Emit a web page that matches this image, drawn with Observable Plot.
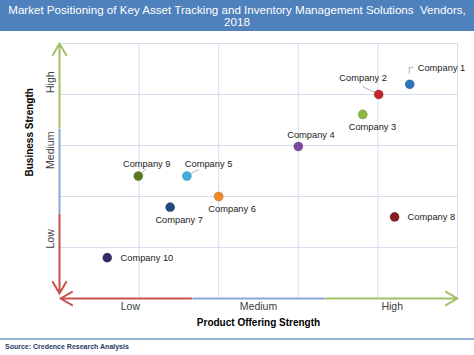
<!DOCTYPE html>
<html><head><meta charset="utf-8">
<script src="https://cdn.jsdelivr.net/npm/d3@7"></script>
<script src="https://cdn.jsdelivr.net/npm/@observablehq/plot@0.6"></script>
<style>
body{margin:0;background:#fff;}
#wrap{width:474px;height:355px;position:relative;overflow:hidden;font-family:"Liberation Sans",Arial,sans-serif;}
#title{height:31px;background:#4F81BD;color:#fff;font-size:11.6px;line-height:12.7px;text-align:center;padding-top:3.5px;box-sizing:border-box;white-space:nowrap;}
#chart{position:absolute;left:0;top:31px;}
#footer{position:absolute;left:0;top:338px;width:474px;height:17px;border-top:2px solid #95B3D7;box-sizing:border-box;font-size:7px;font-weight:bold;color:#1F3864;padding:3px 0 0 5px;}
</style></head>
<body>
<div id="wrap">
  <div id="title">Market Positioning of Key Asset Tracking and Inventory Management Solutions&nbsp; Vendors,<br>2018</div>
  <div id="chart"></div>
  <div id="footer">Source: Credence Research Analysis</div>
</div>
<script>
// ---- data ----
const companies = ["Company 1","Company 2","Company 3","Company 4","Company 5","Company 6","Company 7","Company 8","Company 9","Company 10"];
const productStrength = [4.40, 4.01, 3.81, 3.00, 1.60, 2.00, 1.39, 4.21, 0.99, 0.60];
const businessStrength = [4.20, 4.00, 3.61, 2.98, 2.40, 2.00, 1.79, 1.60, 2.40, 0.80];
const dotColors = ["#2E75C0","#C4262C","#8DB83F","#7A47A3","#43AEDD","#F08828","#1F4A82","#8A1A1C","#5B7B22","#392A68"];
const levelLabels = ["Low","Medium","High"];
const xLevelPos = [0.89, 2.5, 4.18];
const yLevelPos = [0.98, 2.54, 4.03];

// ---- layout (label offsets in px relative to each dot) ----
const labelLayout = [
  {dx: 8, dy: -16, anchor: "start", leader: [[0,-10],[0,-16.4],[4,-16.4]]},
  {dx: -15.6, dy: -16, anchor: "middle", leader: [[-15.6,-7.3],[-3.3,-1.7]]},
  {dx: 9.7, dy: 12.4, anchor: "middle"},
  {dx: 12.7, dy: -11.7, anchor: "middle"},
  {dx: 21.7, dy: -12.3, anchor: "middle", leader: [[12.3,-6.3],[4,-1.7]]},
  {dx: 13.4, dy: 13, anchor: "middle"},
  {dx: 9, dy: 12.6, anchor: "middle"},
  {dx: 13, dy: 0.6, anchor: "start"},
  {dx: 8.4, dy: -12.3, anchor: "middle", leader: [[8.4,-6.7],[3.4,-2.3]]},
  {dx: 13.3, dy: 0.7, anchor: "start"}
];

const points = companies.map((name, i) => ({name, x: productStrength[i], y: businessStrength[i], color: dotColors[i], ...labelLayout[i]}));
const xTicks = levelLabels.map((label, i) => ({label, pos: xLevelPos[i]}));
const yTicks = levelLabels.map((label, i) => ({label, pos: yLevelPos[i]}));
const gridVals = [0,1,2,3,4,5];
const third = [0, 5/3, 10/3, 5];

const RED = "#C8524E", BLUE = "#8AA6D6", GREEN = "#A2C165";
const fontLab = "Liberation Sans, Arial, sans-serif";

const leaderMark = (index, scales) => {
  const g = d3.create("svg:g").attr("fill","none").attr("stroke","#9AA3B0").attr("stroke-width",0.8);
  points.forEach(p => {
    if (!p.leader) return;
    const cx = scales.x(p.x), cy = scales.y(p.y);
    g.append("path").attr("d", "M" + p.leader.map(([a,b]) => (cx+a)+","+(cy+b)).join("L"));
  });
  return g.node();
};

const marks = [
  Plot.gridX(gridVals, {stroke: "#D5DCEC", strokeOpacity: 1, strokeWidth: 1}),
  Plot.gridY(gridVals, {stroke: "#D5DCEC", strokeOpacity: 1, strokeWidth: 1}),
  // y axis arrow segments
  Plot.arrow([{}], {x1: 0, x2: 0, y1: third[2], y2: third[3], stroke: GREEN, strokeWidth: 2, headLength: 10, insetStart: 1}),
  Plot.arrow([{}], {x1: 0, x2: 0, y1: third[1], y2: third[2], stroke: BLUE, strokeWidth: 2, headLength: 0, insetStart: 1, insetEnd: 1}),
  Plot.arrow([{}], {x1: 0, x2: 0, y1: third[1], y2: third[0], stroke: RED, strokeWidth: 2, headLength: 10, insetStart: 1, insetEnd: 5}),
  // x axis arrow segments
  Plot.arrow([{}], {y1: 0, y2: 0, x1: third[1], x2: third[0], stroke: RED, strokeWidth: 2, headLength: 10, insetStart: 1, insetEnd: 1}),
  Plot.arrow([{}], {y1: 0, y2: 0, x1: third[1], x2: third[2], stroke: BLUE, strokeWidth: 2, headLength: 0, insetStart: 1, insetEnd: 1}),
  Plot.arrow([{}], {y1: 0, y2: 0, x1: third[2], x2: third[3], stroke: GREEN, strokeWidth: 2, headLength: 10, insetStart: 1}),
  // tick labels
  Plot.text(xTicks, {x: "pos", text: "label", frameAnchor: "bottom", dy: 11.5, fontSize: 10.5, fill: "#404040"}),
  Plot.text(yTicks, {y: "pos", text: "label", frameAnchor: "left", dx: -9, rotate: -90, fontSize: 10.5, fill: "#404040"}),
  // axis titles
  Plot.text(["Product Offering Strength"], {frameAnchor: "bottom", dy: 27.5, fontSize: 10, fontWeight: "bold", fill: "#000"}),
  Plot.text(["Business Strength"], {frameAnchor: "left", dx: -30, dy: 5.5, rotate: -90, fontSize: 10, fontWeight: "bold", fill: "#000"}),
  leaderMark,
  Plot.dot(points, {x: "x", y: "y", r: 4.6, fill: "color", stroke: "rgba(0,0,0,0.25)", strokeWidth: 0.6}),
  ...points.map(p => Plot.text([p], {x: "x", y: "y", text: "name", dx: p.dx, dy: p.dy, textAnchor: p.anchor, fontSize: 9.3, fill: "#222"}))
];

const plot = Plot.plot({
  width: 474,
  height: 307,
  marginTop: 12,
  marginBottom: 40,
  marginLeft: 59,
  marginRight: 17,
  x: {domain: [0, 5], axis: null},
  y: {domain: [0, 5], axis: null},
  color: {type: "identity"},
  style: {fontFamily: fontLab, background: "transparent", overflow: "visible"},
  marks
});
document.getElementById("chart").appendChild(plot);
</script>
</body></html>
